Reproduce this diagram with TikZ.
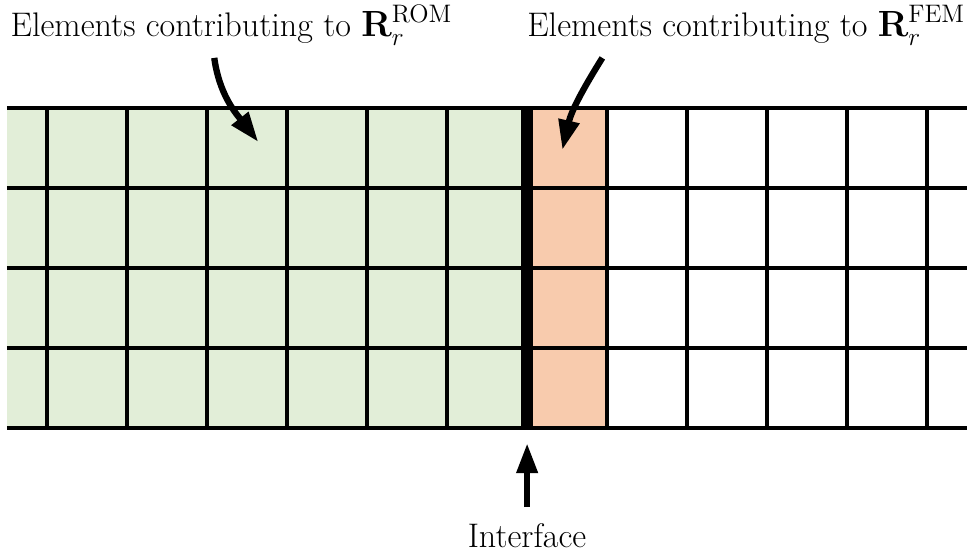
\documentclass[tikz,border=0pt]{standalone}
\usepackage{amsmath}
\usetikzlibrary{arrows.meta}
\definecolor{romgreen}{RGB}{226,238,216}
\definecolor{femorange}{RGB}{248,203,173}
\tikzset{
  gridline/.style={line width=1.9pt},
  pointer/.style={line width=3.6pt,-{Triangle[length=17pt,width=11.5pt]}},
  label/.style={font=\fontsize{19.4}{23}\selectfont,anchor=base}
}
\begin{document}
\begin{tikzpicture}[scale=1.6]
\useasboundingbox (-0.0875,-1.55) rectangle (12.0625,5.35);
% element regions
\fill[romgreen] (0,0) rectangle (6.5,4);
\fill[femorange] (6.5,0) rectangle (7.5,4);
% mesh
\foreach \y in {0,1,2,3,4}
  \draw[gridline] (0,\y) -- (12,\y);
\foreach \x in {0.5,1.5,2.5,3.5,4.5,5.5,7.5,8.5,9.5,10.5,11.5}
  \draw[gridline] (\x,0) -- (\x,4);
\draw[line width=7.2pt] (6.5,0) -- (6.5,4);
% labels
\node[label] (rom) at (2.806,4.9) {Elements contributing to $\mathbf{R}_r^{\mathrm{ROM}}$};
\node[label] (fem) at (9.24,4.9) {Elements contributing to $\mathbf{R}_r^{\mathrm{FEM}}$};
\node[label] (iface) at (6.5,-1.4875) {Interface};
\coordinate (romtail) at (2.59,4.625);
\coordinate (romtip) at (3.14,3.575);
\coordinate (femtail) at (7.44,4.625);
\coordinate (femtip) at (6.94,3.475);
\coordinate (ifacetail) at (6.5,-0.99);
\coordinate (ifacetip) at (6.5,-0.19);
\draw[pointer] (romtail) to[out=-82,in=128] (romtip);
\draw[pointer] (femtail) to[out=-122,in=77] (femtip);
\draw[pointer] (ifacetail) -- (ifacetip);
\end{tikzpicture}
\end{document}
